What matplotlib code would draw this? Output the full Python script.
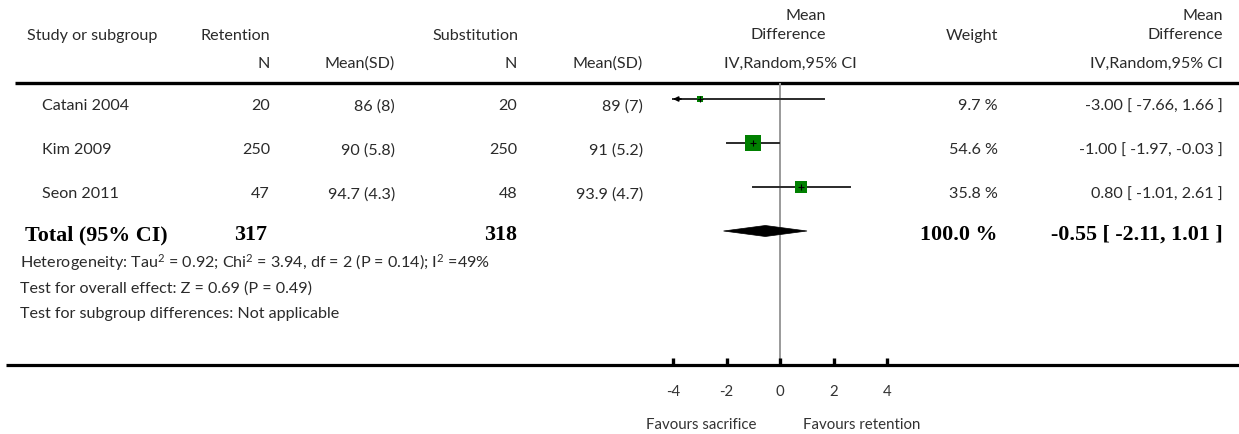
import matplotlib
matplotlib.use("Agg")
import matplotlib.pyplot as plt
from matplotlib.patches import Polygon

plt.rcParams["mathtext.fontset"] = "custom"
plt.rcParams["mathtext.rm"] = "Lato"
plt.rcParams["mathtext.default"] = "rm"

# ---- data ----
studies = ["Catani 2004", "Kim 2009", "Seon 2011"]
ret_n = [20, 250, 47]
ret_mean = [86, 90, 94.7]
ret_sd = [8, 5.8, 4.3]
sub_n = [20, 250, 48]
sub_mean = [89, 91, 93.9]
sub_sd = [7, 5.2, 4.7]
md = [-3.00, -1.00, 0.80]
ci_lo = [-7.66, -1.97, -1.01]
ci_hi = [1.66, -0.03, 2.61]
weight = [9.7, 54.6, 35.8]

total_ret_n = 317
total_sub_n = 318
total_weight = 100.0
total_md = -0.55
total_lo = -2.11
total_hi = 1.01

heterogeneity = "Heterogeneity: Tau$^{2}$ = 0.92; Chi$^{2}$ = 3.94, df = 2 (P = 0.14); I$^{2}$ =49%"
overall_effect = "Test for overall effect: Z = 0.69 (P = 0.49)"
subgroup_diff = "Test for subgroup differences: Not applicable"

xticks = [-4, -2, 0, 2, 4]
left_label = "Favours sacrifice"
right_label = "Favours retention"

# ---- figure ----
W, H = 1239, 435
fig = plt.figure(figsize=(W / 100, H / 100), dpi=100)

SANS = "Lato"
SERIF = "Liberation Serif"
TXT = "#2a2a2a"
FS = 11.6
BFS = 15.8

# layout canvas in pixel units
lay = fig.add_axes([0, 0, 1, 1])
lay.set_xlim(0, W)
lay.set_ylim(H, 0)
lay.axis("off")


def t(x, y, s, ha="left", bold=False, size=None):
    lay.text(x, y, s, ha=ha, va="baseline", color=TXT if not bold else "black",
             family=SERIF if bold else SANS, fontweight="bold" if bold else "normal",
             fontsize=size or (BFS if bold else FS))


# column anchors
X_STUDY = 27
X_STUDY_ROW = 42
X_RN = 270
X_RM = 395
X_SN = 517
X_SM = 643
X_MD_HEAD = 826
X_W = 998
X_CI = 1223

# header
t(X_STUDY, 40, "Study or subgroup")
t(200, 40, "Retention")
t(432, 40, "Substitution")
t(X_MD_HEAD, 20, "Mean", ha="right")
t(X_MD_HEAD, 39, "Difference", ha="right")
t(X_W, 40, "Weight", ha="right")
t(X_CI, 20, "Mean", ha="right")
t(X_CI, 39, "Difference", ha="right")
t(X_RN, 68, "N", ha="right")
t(X_RM, 68, "Mean(SD)", ha="right")
t(X_SN, 68, "N", ha="right")
t(X_SM, 68, "Mean(SD)", ha="right")
t(790, 68, "IV,Random,95% CI", ha="center")
t(X_CI, 68, "IV,Random,95% CI", ha="right")

lay.plot([15, W], [84, 84], color="black", lw=2.4, solid_capstyle="butt")
lay.plot([6, W], [366, 366], color="black", lw=2.3, solid_capstyle="butt")

row_y = [100, 144, 188]
total_y = 232

for i, name in enumerate(studies):
    y = row_y[i] + 10.5
    t(X_STUDY_ROW, y, name)
    t(X_RN, y, f"{ret_n[i]}", ha="right")
    t(X_RM, y, f"{ret_mean[i]:g} ({ret_sd[i]:g})", ha="right")
    t(X_SN, y, f"{sub_n[i]}", ha="right")
    t(X_SM, y, f"{sub_mean[i]:g} ({sub_sd[i]:g})", ha="right")
    t(X_W, y, f"{weight[i]:.1f} %", ha="right")
    t(X_CI, y, f"{md[i]:.2f} [ {ci_lo[i]:.2f}, {ci_hi[i]:.2f} ]", ha="right")

ty = total_y + 8
t(25, ty, "Total (95% CI)", bold=True)
t(X_RN - 3, ty, f"{total_ret_n}", ha="right", bold=True)
t(X_SN, ty, f"{total_sub_n}", ha="right", bold=True)
t(X_W, ty, f"{total_weight:.1f} %", ha="right", bold=True)
t(X_CI, ty, f"{total_md:.2f} [ {total_lo:.2f}, {total_hi:.2f} ]", ha="right", bold=True)

t(20, 268, heterogeneity)
t(20, 293, overall_effect)
t(20, 318, subgroup_diff)

# ---- forest panel ----
x0_px, x1_px = 673, 887
top_px, bot_px = 84, 366
ax = fig.add_axes([x0_px / W, (H - bot_px) / H, (x1_px - x0_px) / W, (bot_px - top_px) / H])
ax.set_xlim(xticks[0], xticks[-1])
ax.set_ylim(bot_px, top_px)
for sp in ax.spines.values():
    sp.set_visible(False)
ax.set_yticks([])
ax.set_xticks(xticks)
ax.set_xticklabels([f"{v}" for v in xticks], family=SANS,
                   fontsize=FS - 0.8, color="#333333")
ax.tick_params(axis="x", direction="in", length=5, width=2.4, color="black", pad=14)
ax.patch.set_alpha(0)

ax.axvline(0, color="#9a9a9a", lw=1.4, zorder=1)

xmin, xmax = ax.get_xlim()
for i in range(len(studies)):
    y = row_y[i]
    lo, hi = ci_lo[i], ci_hi[i]
    lo_c, hi_c = max(lo, xmin), min(hi, xmax)
    ax.plot([lo_c, hi_c], [y, y], color="#2a2a2a", lw=1.4, zorder=2, clip_on=False)
    if lo < xmin:
        ax.annotate("", xy=(xmin, y), xytext=(xmin + 0.3, y),
                    arrowprops=dict(arrowstyle="-|>", color="black", lw=1.2,
                                    mutation_scale=7, shrinkA=0, shrinkB=0))
    if hi > xmax:
        ax.annotate("", xy=(xmax, y), xytext=(xmax - 0.3, y),
                    arrowprops=dict(arrowstyle="-|>", color="black", lw=1.2,
                                    mutation_scale=7, shrinkA=0, shrinkB=0))
    ax.plot([md[i]], [y], marker="s", linestyle="none", color="#008000",
            markeredgewidth=0, markersize=1.5 * weight[i] ** 0.5, zorder=3)
    ax.plot([md[i]], [y], marker="+", linestyle="none", color="black",
            markersize=4.5, markeredgewidth=0.8, zorder=4)

half_h = 5.5
diamond = Polygon([[total_lo, total_y], [total_md, total_y - half_h],
                   [total_hi, total_y], [total_md, total_y + half_h]],
                  closed=True, facecolor="black", edgecolor="black", lw=0.5, zorder=3)
ax.add_patch(diamond)

ax.text(-2.95, 429, left_label, ha="center", va="baseline", family=SANS,
        fontsize=FS - 0.8, color="#333333", clip_on=False)
ax.text(3.05, 429, right_label, ha="center", va="baseline", family=SANS,
        fontsize=FS - 0.8, color="#333333", clip_on=False)

fig.savefig("out.png", dpi=100)
